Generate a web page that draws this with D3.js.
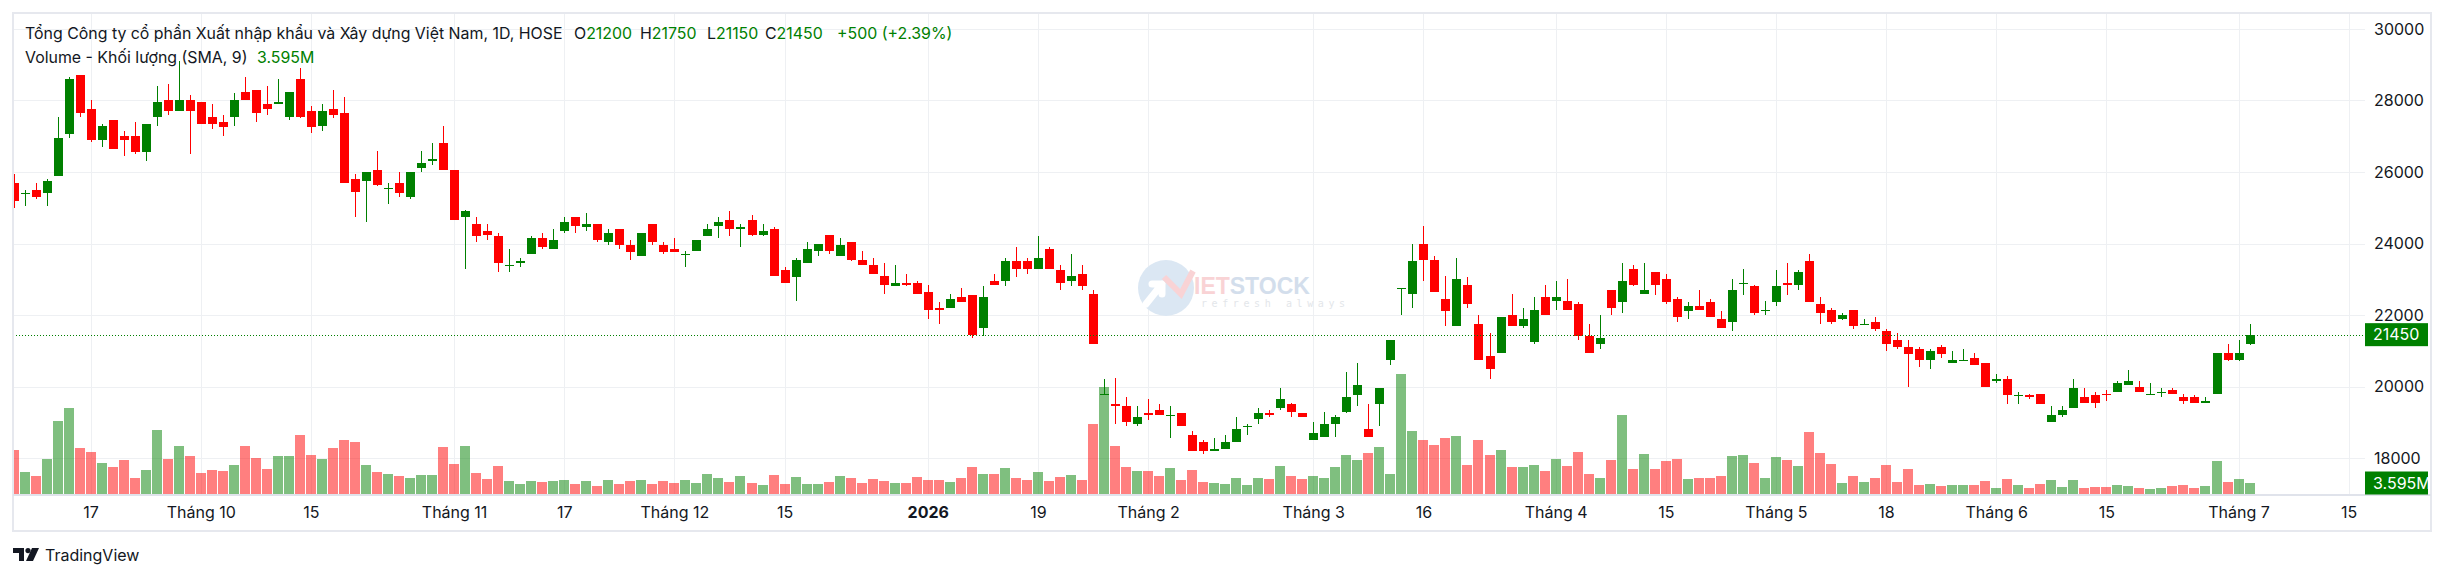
<!DOCTYPE html>
<html>
<head>
<meta charset="utf-8">
<script src="https://cdn.jsdelivr.net/npm/d3@7"></script>
<style>
  body { margin: 0; background: #fff; }
  svg { display: block; font-family: Inter, "Noto Sans", sans-serif; }
</style>
</head>
<body>
<div id="chart"></div>
<script>
// daily candles, 2025-09-08 .. 2026-07-02 (HOSE trading days)
var opens = [25700,25400,25500,25400,25900,27050,28700,27750,26900,27450,27000,27000,26550,27550,28000,27700,28000,27950,27550,27400,
  27550,28250,28300,27900,27900,27550,28600,27700,27300,27750,27650,25800,25750,26050,25550,25700,25300,26100,26300,26800,
  26050,24750,24550,24350,24200,23400,23450,23700,24150,23850,24350,24750,24450,24550,24050,24400,23950,23650,24550,23950,
  23850,23700,23800,24200,24500,24650,24400,24650,24250,24400,23250,23050,23450,23800,24250,23650,24050,23550,23400,23100,
  22800,22900,22900,22650,22200,22200,22500,22550,21650,22950,22950,23500,23500,23300,23850,23250,22950,23150,22600,19800,
  19500,19450,18950,19250,19350,19200,19250,18650,18450,18200,18250,18450,18900,19100,19250,19400,19500,19250,18500,18600,
  18950,19300,19750,18800,19500,20750,22750,22600,24000,23550,22450,21700,22850,21750,20850,20950,22000,21700,21250,22500,
  22400,22400,22300,21400,21200,22700,22350,23300,22600,23200,23000,22450,22100,22250,22350,21900,21800,22900,22800,22150,
  22350,22900,22850,23500,22300,22150,21900,22150,21750,21800,21550,21300,21100,21050,20750,21100,20650,20750,20800,20650,
  20150,20200,19750,19750,19800,19000,19200,19400,19700,19750,19800,19850,20050,20000,19800,19850,19900,19700,19700,19550,
  19800,20950,20750,21200];
var highs = [25950,25500,25700,25800,27550,28650,28700,28000,27350,27450,27150,27400,27350,28400,28450,29100,28150,27950,27900,27600,
  28200,28650,28300,28400,28600,28250,28900,27850,27900,28300,28100,25950,26000,26600,25700,26000,26000,26600,26800,27300,
  26050,24950,24750,24550,24300,23850,23600,24200,24300,24400,24750,24750,24850,24550,24400,24400,24100,24300,24550,24050,
  24150,23800,24100,24550,24750,24900,24550,24800,24550,24450,23350,23600,24050,24000,24250,24150,24050,23800,23600,23450,
  23400,23150,22950,22850,22350,22600,22750,22550,22800,23150,23600,23900,23600,24200,23900,23400,23700,23400,22700,20200,
  20250,19700,19450,19650,19500,19450,19250,18750,18500,18550,18650,19150,18950,19400,19350,19950,19550,19250,19000,19300,
  19200,20400,20650,19500,19950,21300,22750,24000,24500,23650,23100,23600,23050,22000,21500,21950,22600,22200,22500,22850,
  22950,23000,22350,21750,22000,22700,23450,23400,23450,23200,23150,22500,22350,22700,22450,22100,23000,23300,22850,22400,
  23250,23450,23250,23700,22500,22200,22050,22150,21900,21950,21600,21500,21300,21100,21050,21150,21000,21050,20950,20650,
  20350,20300,19850,19800,19800,19450,19450,20200,19950,19850,19900,20150,20450,20150,20100,19950,19950,19800,19750,19700,
  20950,21200,21300,21750];
var lows = [25000,25050,25250,25050,25900,26950,27550,26850,26700,26650,26450,26500,26300,27300,27600,27700,26500,27350,27200,27000,
  27300,28000,27400,27600,27900,27450,27500,27100,27150,27500,25700,24750,24600,25600,25100,25300,25250,26000,26200,26050,
  24650,23300,24050,24100,23200,23200,23350,23700,23850,23850,24300,24300,24350,24050,23950,23850,23550,23650,23950,23700,
  23750,23350,23800,24200,24150,24200,23900,24200,24200,23100,22900,22400,23450,23650,23700,23650,23500,23400,23150,22600,
  22800,22800,22600,21900,21750,22200,22350,21350,21400,22850,22800,23050,23150,23300,23300,22700,22800,22700,21200,19800,
  18950,18900,18900,19050,19200,18550,18900,18200,18100,18200,18250,18450,18650,18950,19150,19350,19150,19150,18500,18600,
  18600,19250,19450,18600,18900,20600,22000,22200,22950,22650,21700,21700,22200,20750,20200,20950,21700,21650,21200,22000,
  22150,22150,21300,20950,21050,22000,22050,22800,22600,22550,22300,21800,21900,22150,21950,21650,21550,22550,22000,22000,
  22250,22550,22700,22350,21750,21750,21850,21600,21750,21550,21000,21050,20000,20550,20500,20800,20650,20750,20600,20000,
  20100,19500,19500,19650,19500,19000,19150,19400,19550,19400,19600,19850,20050,19850,19800,19700,19800,19500,19550,19550,
  19800,20700,20700,21150];
var closes = [25200,25400,25300,25750,26950,28600,27650,26900,27300,26650,26900,26550,27350,27950,27700,28000,27700,27350,27350,27250,
  28000,28000,27650,27750,27950,28250,27550,27250,27700,27600,25700,25450,26000,25650,25550,25400,26000,26250,26350,26050,
  24650,24900,24200,24250,23450,23400,23500,24150,23900,24100,24600,24500,24550,24100,24300,23950,23750,24300,24050,23750,
  23750,23700,24100,24400,24600,24400,24450,24250,24350,23100,22900,23550,23850,24000,23800,23950,23550,23400,23150,22850,
  22900,22850,22600,22150,22150,22450,22350,21450,22500,22850,23500,23300,23300,23600,23300,22900,23100,22800,21200,19800,
  19450,19000,19150,19200,19200,19200,18900,18200,18200,18250,18450,18800,18900,19250,19200,19650,19300,19150,18700,18950,
  19150,19700,20050,18600,19950,21300,22750,23500,23550,22650,22100,23000,22300,20750,20500,21950,21700,21900,22150,22000,
  22500,22150,21400,20950,21350,22200,22950,22850,22700,22850,22350,21950,22250,22150,21950,21650,22700,22900,22050,22150,
  22800,22850,23200,22350,22050,21800,22000,21700,21750,21600,21200,21100,20900,20750,21000,20900,20750,20750,20600,20000,
  20200,19750,19750,19700,19500,19200,19350,19950,19550,19550,19750,20100,20150,19850,19800,19850,19800,19600,19550,19600,
  20950,20750,20950,21450];
// volume, million shares
var volumes = [14.4,7.2,5.9,11.4,23.9,28.1,15.0,13.7,10.1,8.8,11.1,5.2,7.8,20.9,11.4,15.7,12.4,6.9,7.8,7.5,
  9.5,15.7,11.8,8.2,12.4,12.4,19.3,12.8,11.4,15.0,17.7,17.0,9.5,7.2,6.5,5.9,5.2,6.2,6.2,15.4,
  9.8,15.7,6.9,4.9,9.2,4.3,3.3,4.3,3.9,4.3,4.6,3.3,4.3,2.6,4.6,3.3,4.3,4.6,3.3,4.3,
  3.6,4.6,3.6,6.5,5.2,3.9,5.9,3.6,2.9,6.2,3.3,5.6,3.3,3.3,3.9,5.9,5.2,3.6,4.9,4.3,
  3.6,3.6,5.6,4.6,4.6,3.9,5.2,8.8,6.5,6.5,8.5,5.2,4.6,7.2,4.3,5.6,6.2,4.6,22.9,35.0,
  15.7,8.8,7.5,7.5,5.9,8.5,4.6,7.8,3.9,3.6,3.3,5.2,2.9,5.2,4.9,9.2,5.9,4.9,5.9,5.2,
  8.8,12.8,11.1,13.4,15.4,6.5,39.2,20.6,17.7,16.0,18.3,19.0,9.5,17.7,12.8,14.4,8.8,8.8,9.5,7.5,
  11.4,9.2,13.7,6.5,5.2,11.1,25.8,8.2,13.1,8.2,10.8,11.4,4.9,5.2,5.2,5.9,12.4,12.8,10.1,5.2,
  12.1,11.1,9.2,20.3,13.4,9.8,3.6,5.9,3.9,5.2,9.5,3.9,8.2,2.9,3.3,2.6,2.9,2.9,2.9,4.3,
  2.0,4.9,2.9,2.0,3.3,4.6,2.3,4.6,2.0,2.3,2.3,2.9,2.6,2.0,1.6,2.0,2.6,2.9,2.0,2.6,
  10.8,3.9,4.9,3.595];

var holidays = ["2026-01-01","2026-01-02","2026-02-16","2026-02-17","2026-02-18","2026-02-19","2026-02-20",
  "2026-04-27","2026-04-30","2026-05-01"];
var timeTicks = [["2025-09-17","17"],["2025-10-01","Tháng 10"],["2025-10-15","15"],["2025-11-03","Tháng 11"],
  ["2025-11-17","17"],["2025-12-01","Tháng 12"],["2025-12-15","15"],["2026-01-05","2026"],["2026-01-19","19"],
  ["2026-02-02","Tháng 2"],["2026-03-02","Tháng 3"],["2026-03-16","16"],["2026-04-01","Tháng 4"],["2026-04-15","15"],
  ["2026-05-04","Tháng 5"],["2026-05-18","18"],["2026-06-01","Tháng 6"],["2026-06-15","15"],["2026-07-01","Tháng 7"],
  ["2026-07-15","15"]];
var priceTicks = [18000,20000,22000,24000,26000,28000,30000];

var upColor = "#008000", downColor = "#ff0000";
var W = 2452, H = 578;
var plot = {left: 13, right: 2365, top: 13, bottom: 494};
var frame = {left: 13, top: 13, right: 2431, bottom: 531};
var firstX = 13.5, step = 11.015;

// trading calendar (weekdays minus exchange holidays), extended past the last bar
var fmt = d3.timeFormat("%Y-%m-%d");
var days = d3.timeDay.range(new Date(2025, 8, 8), new Date(2026, 6, 25))
  .filter(function(d) { return d.getDay() != 0 && d.getDay() != 6 && holidays.indexOf(fmt(d)) < 0; })
  .map(fmt);

var bars = closes.map(function(c, i) {
  return {date: days[i], o: opens[i], h: highs[i], l: lows[i], c: c, v: volumes[i]};
});
var last = bars[bars.length - 1];

var svg = d3.select("#chart").append("svg").attr("width", W).attr("height", H);

var x = d3.scalePoint().domain(days).range([firstX, firstX + step * (days.length - 1)]);
var y = d3.scaleLinear().domain([18000, 30000]).range([458, 29]);
var yv = d3.scaleLinear().domain([0, 40]).range([plot.bottom, plot.bottom - 122.4]);

svg.append("clipPath").attr("id", "clip")
  .append("rect").attr("x", plot.left).attr("y", plot.top)
  .attr("width", plot.right - plot.left).attr("height", plot.bottom - plot.top);

// grid
var grid = svg.append("g").attr("stroke", "#eef0f3").attr("stroke-width", 1);
grid.selectAll(".hg").data(priceTicks).enter().append("line")
  .attr("x1", plot.left).attr("x2", plot.right)
  .attr("y1", function(d) { return Math.round(y(d)) + 0.5; })
  .attr("y2", function(d) { return Math.round(y(d)) + 0.5; });
grid.selectAll(".vg").data(timeTicks).enter().append("line")
  .attr("x1", function(d) { return Math.round(x(d[0])) + 0.5; })
  .attr("x2", function(d) { return Math.round(x(d[0])) + 0.5; })
  .attr("y1", plot.top).attr("y2", plot.bottom);

// watermark
var wm = svg.append("g").attr("transform", "translate(1166,288)");
wm.append("circle").attr("r", 28).attr("fill", "#dbe7f3");
wm.append("path").attr("d", "M-20,16 L-4,-4 M-4,-4 L-14,-4 M-4,-4 L-4,6")
  .attr("stroke", "#fff").attr("stroke-width", 7).attr("fill", "none").attr("stroke-linecap", "round");
wm.append("path").attr("d", "M-2,-11 L15,6 L27,-17")
  .attr("stroke", "#f9d3d5").attr("stroke-width", 6).attr("fill", "none");
var wt = wm.append("text").attr("x", 28).attr("y", 6).attr("font-size", 23).attr("font-weight", 700)
  .attr("font-family", "'Liberation Sans', Arial, sans-serif");
wt.append("tspan").attr("fill", "#f9d3d5").text("IET");
wt.append("tspan").attr("fill", "#d3deec").text("STOCK");
wm.append("text").attr("x", 35).attr("y", 19).attr("font-size", 10).attr("letter-spacing", 4.6)
  .attr("fill", "#e3e6ea").attr("font-family", "'DejaVu Sans Mono', monospace").text("refresh always");

// volume
var chart = svg.append("g").attr("clip-path", "url(#clip)");
chart.selectAll(".vol").data(bars).enter().append("rect")
  .attr("shape-rendering", "crispEdges")
  .attr("x", function(d) { return Math.round(x(d.date)) - 5; })
  .attr("width", 10)
  .attr("y", function(d) { return Math.round(yv(d.v)); })
  .attr("height", function(d) { return plot.bottom - Math.round(yv(d.v)); })
  .attr("fill", function(d) { return d.c >= d.o ? upColor : downColor; })
  .attr("fill-opacity", 0.5);

// current price line
svg.append("line")
  .attr("x1", plot.left).attr("x2", plot.right)
  .attr("y1", Math.round(y(last.c)) + 0.5).attr("y2", Math.round(y(last.c)) + 0.5)
  .attr("stroke", upColor).attr("stroke-width", 1).attr("stroke-dasharray", "1,2");

// candles
var candle = chart.selectAll(".candle").data(bars).enter().append("g")
  .attr("fill", function(d) { return d.c >= d.o ? upColor : downColor; })
  .attr("stroke", function(d) { return d.c >= d.o ? upColor : downColor; });
candle.append("line")
  .attr("x1", function(d) { return Math.round(x(d.date)) + 0.5; })
  .attr("x2", function(d) { return Math.round(x(d.date)) + 0.5; })
  .attr("y1", function(d) { return Math.round(y(d.h)); })
  .attr("y2", function(d) { return Math.round(y(d.l)); })
  .attr("stroke-width", 1);
candle.append("rect")
  .attr("stroke", "none").attr("shape-rendering", "crispEdges")
  .attr("x", function(d) { return Math.round(x(d.date)) - 4; })
  .attr("width", 9)
  .attr("y", function(d) { return Math.round(y(Math.max(d.o, d.c))); })
  .attr("height", function(d) { return Math.max(1, Math.round(y(Math.min(d.o, d.c))) - Math.round(y(Math.max(d.o, d.c)))); });

// frame
svg.append("rect").attr("x", frame.left).attr("y", frame.top)
  .attr("width", frame.right - frame.left).attr("height", frame.bottom - frame.top)
  .attr("fill", "none").attr("stroke", "#e6e8ee").attr("stroke-width", 2);
svg.append("line").attr("x1", frame.left).attr("x2", frame.right)
  .attr("y1", plot.bottom + 1).attr("y2", plot.bottom + 1)
  .attr("stroke", "#e0e3eb").attr("stroke-width", 2);

// price axis
var yAxis = svg.append("g").attr("transform", "translate(" + plot.right + ",0)")
  .call(d3.axisRight(y).tickValues(priceTicks).tickSize(0).tickPadding(9).tickFormat(d3.format("d")));
yAxis.select(".domain").remove();
yAxis.selectAll("text").attr("font-size", 16).attr("fill", "#131722").attr("font-family", "Inter, sans-serif");

// time axis
var tickLabel = new Map(timeTicks);
var xAxis = svg.append("g").attr("transform", "translate(0," + plot.bottom + ")")
  .call(d3.axisBottom(x).tickValues(timeTicks.map(function(d) { return d[0]; }))
    .tickSize(0).tickPadding(13).tickFormat(function(d) { return tickLabel.get(d); }));
xAxis.select(".domain").remove();
xAxis.selectAll("text").attr("font-size", 16).attr("fill", "#131722").attr("font-family", "Inter, sans-serif")
  .attr("font-weight", function(d) { return tickLabel.get(d) == "2026" ? 700 : 400; });

// last value labels
function tag(yc, label) {
  svg.append("rect").attr("x", plot.right).attr("y", yc - 11.5).attr("width", 63).attr("height", 23).attr("fill", upColor);
  svg.append("text").attr("x", plot.right + 8).attr("y", yc).attr("dy", "0.35em")
    .attr("font-size", 16).attr("fill", "#fff").text(label);
}
tag(y(last.c), d3.format("d")(last.c));
tag(yv(last.v), last.v + "M");

// legend: title sized to span the same width as in the source chart
var prevClose = closes[closes.length - 2], change = last.c - prevClose;
var legend = svg.append("g").attr("fill", "#131722");
var title = legend.append("text").attr("x", 25).attr("y", 39).attr("font-size", 17)
  .text("Tổng Công ty cổ phần Xuất nhập khẩu và Xây dựng Việt Nam, 1D, HOSE");
var fs = 17 * 538 / title.node().getComputedTextLength();
fs = Math.max(15, Math.min(18, fs));
title.attr("font-size", fs);
var items = [["O", last.o, 574], ["H", last.h, 640], ["L", last.l, 707], ["C", last.c, 765]];
items.forEach(function(p) {
  var t = legend.append("text").attr("x", p[2]).attr("y", 39).attr("font-size", fs);
  t.append("tspan").text(p[0]);
  t.append("tspan").attr("fill", upColor).text(p[1]);
});
legend.append("text").attr("x", 837).attr("y", 39).attr("font-size", fs).attr("fill", upColor)
  .text("+" + change + " (+" + (change / prevClose * 100).toFixed(2) + "%)");
var vtitle = legend.append("text").attr("x", 25).attr("y", 63).attr("font-size", fs)
  .text("Volume - Khối lượng (SMA, 9)");
legend.append("text").attr("x", 257).attr("y", 63).attr("font-size", fs).attr("fill", upColor)
  .text(last.v + "M");

// TradingView attribution
var tv = svg.append("g").attr("transform", "translate(13,548)").attr("fill", "#131722");
tv.append("path").attr("d", "M0,0 H11 V13 H6 V5 H0 Z");
tv.append("circle").attr("cx", 15).attr("cy", 2.6).attr("r", 2.6);
tv.append("path").attr("d", "M19,0 H26 L20,13 H13 Z");
tv.append("text").attr("x", 32).attr("y", 12.5).attr("font-size", 16).text("TradingView");
</script>
</body>
</html>
